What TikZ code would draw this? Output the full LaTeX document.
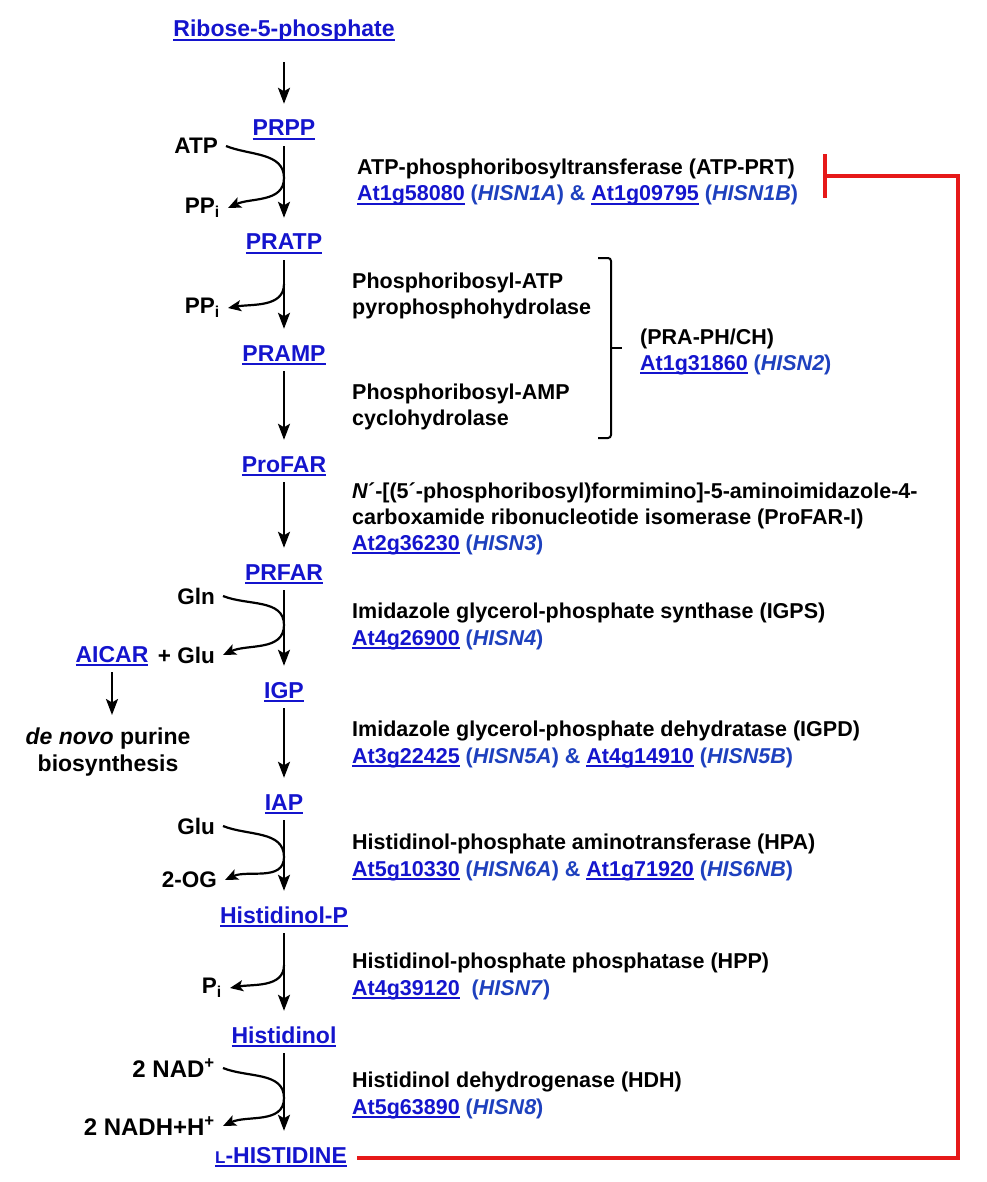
\documentclass[tikz,border=0pt]{standalone}
\usepackage{fontspec}
\setmainfont{Liberation Sans}
\usetikzlibrary{arrows.meta}

\definecolor{linkblue}{RGB}{20,20,205}
\definecolor{genblue}{RGB}{30,65,190}
\definecolor{inhred}{RGB}{230,25,25}

\newsavebox{\lnkbox}
\newcommand{\lnk}[1]{{\color{linkblue}\sbox{\lnkbox}{#1}%
  \rlap{\color{linkblue}\rule[-4.2pt]{\wd\lnkbox}{2pt}}\usebox{\lnkbox}}}
\newcommand{\gn}[1]{\textcolor{genblue}{(\textit{#1})}}
\newcommand{\amp}{\textcolor{genblue}{\&}}

\begin{document}
\begin{tikzpicture}[x=1pt,y=-1pt]
\def \posx {284}
   \tikzset{MetStyle/.style = {font=\bfseries\fontsize{23}{27}\selectfont, anchor=base,
                               inner sep=2pt, text height=17pt, text depth=6pt}}
   \tikzset{CofStyle/.style = {font=\bfseries\fontsize{22.5}{26}\selectfont, anchor=east,
                               inner xsep=8pt, inner ysep=2pt}}
   \tikzset{EnzStyle/.style = {font=\bfseries\fontsize{21.5}{25.5}\selectfont, anchor=north west,
                               align=left, inner sep=0pt}}
   \tikzset{GeneStyle/.style = {font=\bfseries\fontsize{21.5}{25.5}\selectfont, anchor=base west,
                                inner sep=0pt}}
   \tikzset{EdgeStyle/.style = {-{Stealth[length=16pt,width=12pt,inset=3.5pt]}, line width=2.4pt,
                                shorten <=2pt, shorten >=13pt}}
   \tikzset{SideStyle/.style = {-{Stealth[length=13pt,width=11pt,inset=3pt]}, line width=2.2pt}}
   \tikzset{InhStyle/.style = {draw=inhred, line width=4pt, -{Bar[width=44pt]}}}
   \useasboundingbox (0,0) rectangle (986,1182);

% metabolites
   \node[MetStyle] (R5P)    at (\posx,37)   {\lnk{Ribose-5-phosphate}};
   \node[MetStyle] (PRPP)   at (\posx,136)  {\lnk{PRPP}};
   \node[MetStyle] (PRATP)  at (\posx,250)  {\lnk{PRATP}};
   \node[MetStyle] (PRAMP)  at (\posx,361)  {\lnk{PRAMP}};
   \node[MetStyle] (ProFAR) at (\posx,472)  {\lnk{ProFAR}};
   \node[MetStyle] (PRFAR)  at (\posx,580)  {\lnk{PRFAR}};
   \node[MetStyle] (IGP)    at (\posx,698)  {\lnk{IGP}};
   \node[MetStyle] (IAP)    at (\posx,810)  {\lnk{IAP}};
   \node[MetStyle] (HolP)   at (\posx,923)  {\lnk{Histidinol-P}};
   \node[MetStyle] (Hol)    at (\posx,1043) {\lnk{Histidinol}};
   \node[MetStyle] (LHis)   at (281,1163)   {\lnk{{\fontsize{17}{17}\selectfont L}-HISTIDINE}};
   \node[MetStyle] (AICAR)  at (112,662)    {\lnk{AICAR}};
   \node[font=\bfseries\fontsize{23}{27}\selectfont, align=center, anchor=north, inner sep=0pt]
        (denovo) at (108,728) {\textit{de novo} purine\\biosynthesis};

% cofactors
   \node[CofStyle] (ATP)  at (226,146)  {ATP};
   \node[CofStyle] (PPi1) at (228,208)  {PP\textsubscript{i}};
   \node[CofStyle] (PPi2) at (228,308)  {PP\textsubscript{i}};
   \node[CofStyle] (Gln)  at (223,596)  {Gln};
   \node[CofStyle] (Glu1) at (223,655)  {+ Glu};
   \node[CofStyle] (Glu2) at (223,826)  {Glu};
   \node[CofStyle] (OG)   at (225,880)  {2-OG};
   \node[CofStyle] (Pi)   at (230,988)  {P\textsubscript{i}};
   \node[CofStyle, font=\bfseries\fontsize{24}{28}\selectfont] (NAD)  at (223,1068) {2 NAD\textsuperscript{+}};
   \node[CofStyle, font=\bfseries\fontsize{24}{28}\selectfont] (NADH) at (223,1126) {2 NADH+H\textsuperscript{+}};

% enzymes
   \node[EnzStyle] (ATPPRT) at (357,159) {ATP-phosphoribosyltransferase (ATP-PRT)};
   \node[GeneStyle] (ATPPRTg) at (357,201)
        {\lnk{At1g58080} \gn{HISN1A} \amp{} \lnk{At1g09795} \gn{HISN1B}};
   \node[EnzStyle] (PRAPH) at (352,273) {Phosphoribosyl-ATP\\pyrophosphohydrolase};
   \node[EnzStyle] (PRACH) at (352,384) {Phosphoribosyl-AMP\\cyclohydrolase};
   \node[EnzStyle] (PRAPHCH) at (640,329) {(PRA-PH/CH)};
   \node[GeneStyle] (PRAPHCHg) at (640,370) {\lnk{At1g31860} \gn{HISN2}};
   \node[EnzStyle] (ProFARI) at (352,483) {\textit{N}´-[(5´-phosphoribosyl)formimino]-5-aminoimidazole-4-\\
        carboxamide ribonucleotide isomerase (ProFAR-I)};
   \node[GeneStyle] (ProFARIg) at (352,550) {\lnk{At2g36230} \gn{HISN3}};
   \node[EnzStyle] (IGPS) at (352,603) {Imidazole glycerol-phosphate synthase (IGPS)};
   \node[GeneStyle] (IGPSg) at (352,645) {\lnk{At4g26900} \gn{HISN4}};
   \node[EnzStyle] (IGPD) at (352,721) {Imidazole glycerol-phosphate dehydratase (IGPD)};
   \node[GeneStyle] (IGPDg) at (352,763)
        {\lnk{At3g22425} \gn{HISN5A} \amp{} \lnk{At4g14910} \gn{HISN5B}};
   \node[EnzStyle] (HPA) at (352,834) {Histidinol-phosphate aminotransferase (HPA)};
   \node[GeneStyle] (HPAg) at (352,876)
        {\lnk{At5g10330} \gn{HISN6A} \amp{} \lnk{At1g71920} \gn{HIS6NB}};
   \node[EnzStyle] (HPP) at (352,953) {Histidinol-phosphate phosphatase (HPP)};
   \node[GeneStyle] (HPPg) at (352,995) {\lnk{At4g39120}\ \ \gn{HISN7}};
   \node[EnzStyle] (HDH) at (352,1072) {Histidinol dehydrogenase (HDH)};
   \node[GeneStyle] (HDHg) at (352,1114) {\lnk{At5g63890} \gn{HISN8}};

% main pathway
   \draw[EdgeStyle, shorten <=17pt] (R5P.south) -- (PRPP.north);
   \draw[EdgeStyle] (PRPP.south)   -- (PRATP.north);
   \draw[EdgeStyle] (PRATP.south)  -- (PRAMP.north);
   \draw[EdgeStyle] (PRAMP.south)  -- (ProFAR.north);
   \draw[EdgeStyle] (ProFAR.south) -- (PRFAR.north);
   \draw[EdgeStyle] (PRFAR.south)  -- (IGP.north);
   \draw[EdgeStyle] (IGP.south)    -- (IAP.north);
   \draw[EdgeStyle] (IAP.south)    -- (HolP.north);
   \draw[EdgeStyle] (HolP.south)   -- (Hol.north);
   \draw[EdgeStyle] (Hol.south)    -- (Hol.south |- LHis.north);
   \draw[EdgeStyle] (AICAR.south)  -- (AICAR.south |- denovo.north);

% side reactions
   \coordinate (t1) at (\posx,178);
   \coordinate (t2) at (\posx,284);
   \coordinate (t3) at (\posx,625);
   \coordinate (t4) at (\posx,857);
   \coordinate (t5) at (\posx,965);
   \coordinate (t6) at (\posx,1098);
   \draw[SideStyle] (ATP.east) to[out=-22,in=90] (t1) to[out=-90,in=25] (PPi1.east);
   \draw[SideStyle] (t2) to[out=-90,in=10] (PPi2.east);
   \draw[SideStyle] (Gln.east) to[out=-22,in=90] (t3) to[out=-90,in=25] (Glu1.east);
   \draw[SideStyle] (Glu2.east) to[out=-22,in=90] (t4) to[out=-90,in=25] (OG.east);
   \draw[SideStyle] (t5) to[out=-90,in=10] (Pi.east);
   \draw[SideStyle] (NAD.east) to[out=-22,in=90] (t6) to[out=-90,in=25] (NADH.east);

% bracket for the bifunctional enzyme
   \draw[line width=2pt, rounded corners=3pt] (598,258) -| (611,348) |- (598,438);
   \draw[line width=2pt] (611,348) -- (622,348);

% feedback inhibition
   \coordinate (fb) at (958,176);
   \coordinate (bar) at (823,176);
   \draw[InhStyle, shorten <=8pt] (LHis.east) -| (fb) -- (bar);

\end{tikzpicture}
\end{document}
